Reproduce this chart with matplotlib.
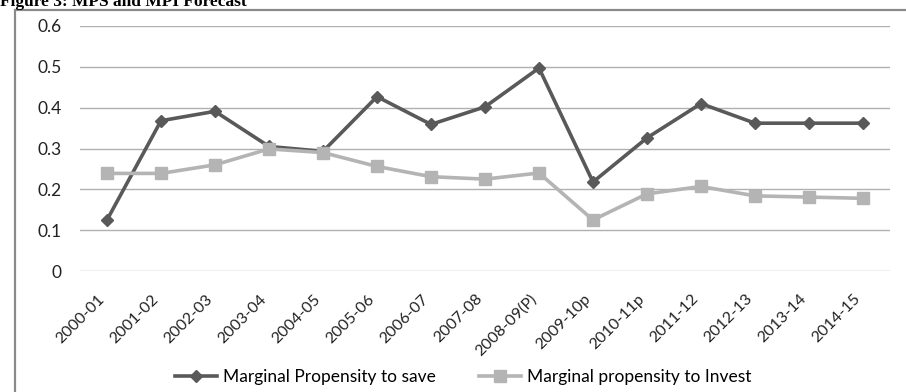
import matplotlib
matplotlib.use("Agg")
import matplotlib.pyplot as plt
from matplotlib.patches import Rectangle

years = ["2000-01", "2001-02", "2002-03", "2003-04", "2004-05", "2005-06",
         "2006-07", "2007-08", "2008-09(P)", "2009-10p", "2010-11p",
         "2011-12", "2012-13", "2013-14", "2014-15"]
mps = [0.125, 0.368, 0.391, 0.305, 0.293, 0.427, 0.359, 0.402, 0.497,
       0.218, 0.326, 0.410, 0.362, 0.362, 0.362]
mpi = [0.239, 0.239, 0.260, 0.299, 0.290, 0.256, 0.231, 0.225, 0.240,
       0.125, 0.189, 0.207, 0.184, 0.181, 0.178]

plt.rcParams["font.family"] = ["Lato", "DejaVu Sans"]

W, H = 906, 392
fig = plt.figure(figsize=(W / 100, H / 100), dpi=100)
ax = fig.add_axes([80 / W, 1 - 271 / H, 810 / W, 245 / H])

x = range(len(years))
ax.plot(x, mps, color="#595959", lw=2.6, marker="D", ms=6.5,
        label="Marginal Propensity to save")
ax.plot(x, mpi, color="#b4b4b4", lw=2.6, marker="s", ms=8,
        label="Marginal propensity to Invest")

ax.set_xlim(-0.5, len(years) - 0.5)
ax.set_ylim(0, 0.6)
ax.set_yticks([0, 0.1, 0.2, 0.3, 0.4, 0.5, 0.6])
ax.set_yticklabels(["0", "0.1", "0.2", "0.3", "0.4", "0.5", "0.6"])
ax.set_xticks(list(x))
ax.set_xticklabels(years, rotation=45, ha="right", va="top")
ax.tick_params(axis="both", length=0, colors="#222222")
ax.tick_params(axis="y", pad=13, labelsize=12.5)
ax.tick_params(axis="x", pad=15, labelsize=11.5)
ax.grid(axis="y", color="#b0b0b0", lw=1)
ax.set_axisbelow(True)
for s in ax.spines.values():
    s.set_visible(False)

fig.legend(loc="center", bbox_to_anchor=(463 / W, 1 - 377 / H), ncol=2,
           frameon=False, fontsize=12.5, handlelength=2.4, columnspacing=2.5,
           handletextpad=0.35, borderpad=0, borderaxespad=0)

# chart frame running past the right and bottom edges
fig.patches.append(Rectangle((15 / W, -0.05), 1.0, (1 - 10 / H) + 0.05,
                             transform=fig.transFigure, fill=False,
                             edgecolor="#8a8a8a", lw=1.6))

fig.text(0, 1 - 6 / H, "Figure 3: MPS and MPI Forecast", family="Liberation Serif",
         weight="bold", fontsize=12.5, va="baseline", ha="left")

fig.savefig("out.png", dpi=100)
